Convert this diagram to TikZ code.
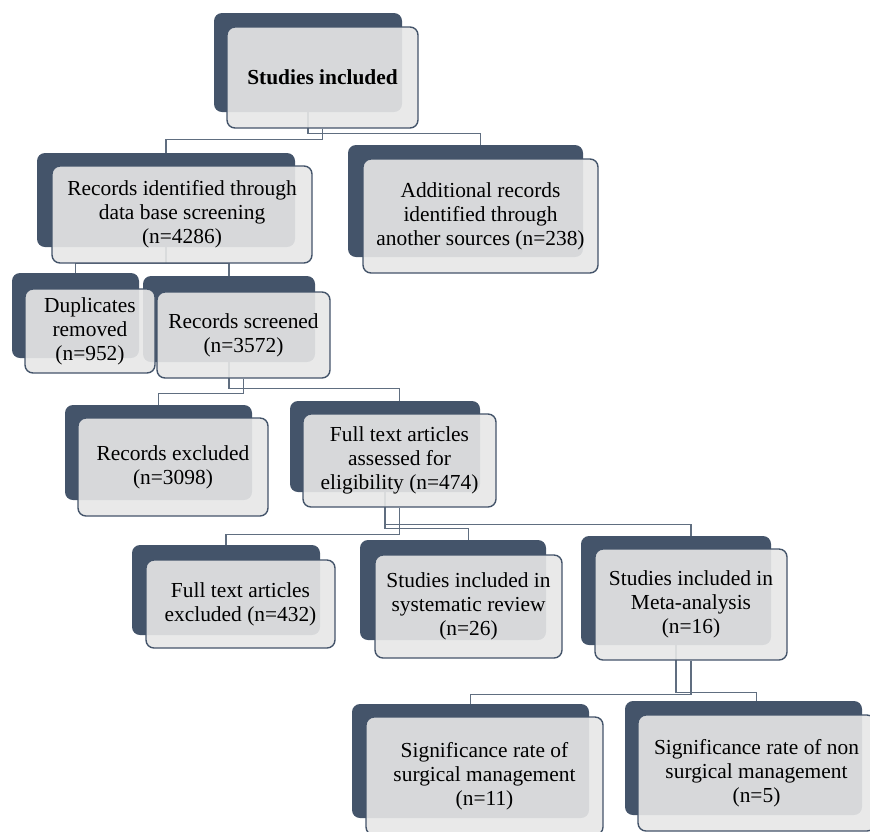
\documentclass[tikz,border=0pt]{standalone}
\usepackage{fontspec}
\setmainfont{LiberationSerif-Regular.ttf}[BoldFont=LiberationSerif-Bold.ttf]
\usetikzlibrary{backgrounds}
\definecolor{navy}{HTML}{44546A}
\definecolor{boxgray}{HTML}{E7E7E7}
\tikzset{
  back/.style 2 args={fill=navy, rounded corners=4pt, inner sep=0pt,
    minimum width=#1*0.5pt, minimum height=#2*0.5pt},
  front/.style 2 args={draw=navy, line width=0.7pt, fill=boxgray, fill opacity=0.9,
    text opacity=1, rounded corners=4pt, inner sep=0pt, align=center,
    minimum width=#1*0.5pt, minimum height=#2*0.5pt,
    font=\fontsize{10.7}{12}\selectfont},
  link/.style={draw=navy!85, line width=0.7pt}
}
\begin{document}
\begin{tikzpicture}[x=0.5pt, y=-0.5pt]
\useasboundingbox (0,0) rectangle (870,831);
\clip (0,0) rectangle (870,831);
% back layer
\node[back={188}{99}]  (incB)  at (308,62.5)  {};
\node[back={258}{94}]  (recB)  at (166,200)   {};
\node[back={235}{112}] (addB)  at (465.5,201) {};
\node[back={127}{85}]  (dupB)  at (75.5,315.5) {};
\node[back={172}{86}]  (scrB)  at (229,319)   {};
\node[back={187}{95}]  (exB)   at (158.5,452.5) {};
\node[back={190}{91}]  (ftaB)  at (385,446.5) {};
\node[back={188}{90}]  (fexB)  at (226,590)   {};
\node[back={186}{100}] (sysB)  at (453,590)   {};
\node[back={190}{109}] (metaB) at (676,590.5) {};
\node[back={237}{114}] (surgB) at (470.5,761) {};
\node[back={237}{114}] (nsB)   at (743.5,758) {};
% front layer
\node[front={191}{101}] (inc)  at (322.5,77.5) {\bfseries Studies included};
\node[front={260}{97}]  (rec)  at (182,214.5)  {Records identified through\\data base screening\\(n=4286)};
\node[front={235}{114}] (add)  at (480.5,216)  {Additional records\\identified through\\another sources (n=238)};
\node[front={130}{84}]  (dup)  at (90,331)     {Duplicates\\removed\\(n=952)};
\node[front={173}{86}]  (scr)  at (243.5,335)  {Records screened\\(n=3572)};
\node[front={190}{98}]  (ex)   at (173,467)    {Records excluded\\(n=3098)};
\node[front={193}{93}]  (fta)  at (399.5,460.5) {Full text articles\\assessed for\\eligibility (n=474)};
\node[front={189}{88}]  (fex)  at (240.5,604)  {Full text articles\\excluded (n=432)};
\node[front={187}{103}] (sys)  at (468.5,606.5) {Studies included in\\systematic review\\(n=26)};
\node[front={192}{111}] (meta) at (691,604.5)  {Studies included in\\Meta-analysis\\(n=16)};
\node[front={237}{118}] (surg) at (484.5,776)  {Significance rate of\\surgical management\\(n=11)};
\node[front={237}{116}] (ns)   at (756.5,773)  {Significance rate of non\\surgical management\\(n=5)};
% connectors
\begin{pgfonlayer}{background}
\path[link]
(incB.south) edge[to path={-- ++(0,21) -| (\tikztotarget)}] (add.north)
(inc.south)  edge[to path={-- ++(0,11) -| (\tikztotarget)}] (recB.north)
(recB.south) edge[to path={-- ++(0,16) -| (\tikztotarget)}] (dupB.north)
             edge[to path={-- ++(0,16) -| (\tikztotarget)}] (scrB.north)
(scrB.south) edge[to path={-- ++(0,26) -| (\tikztotarget)}] (fta.north)
(scr.south)  edge[to path={-- ++(0,15) -| (\tikztotarget)}] (exB.north)
(ftaB.south) edge[to path={-- ++(0,32) -| (\tikztotarget)}] (meta.north)
             edge[to path={-- ++(0,36) -| (\tikztotarget)}] (sys.north)
(fta.south)  edge[to path={-- ++(0,27) -| (\tikztotarget)}] (fexB.north)
(metaB.south) edge[to path={-- ++(0,47) -| (\tikztotarget)}] (ns.north)
(meta.south) edge[to path={-- ++(0,34) -| (\tikztotarget)}] (surgB.north);
\end{pgfonlayer}
\end{tikzpicture}
\end{document}
